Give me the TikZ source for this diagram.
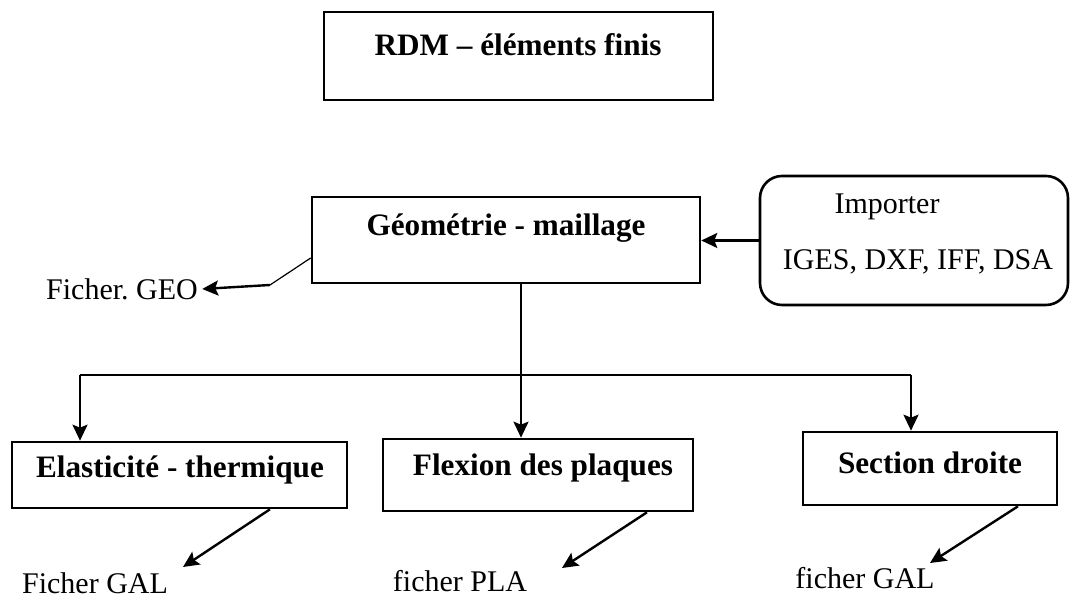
\documentclass[tikz,border=0pt]{standalone}
\usepackage{fontspec}
\setmainfont{Liberation Serif}
\usetikzlibrary{arrows.meta,calc}
\frenchspacing
\begin{document}
\begin{tikzpicture}[x=0.5pt,y=-0.5pt,
  font=\fontsize{15}{18}\selectfont,
  box/.style={draw,line width=1.3pt,inner sep=0pt},
  rbox/.style={draw,line width=1.3pt,inner sep=0pt,rounded corners=11pt},
  lbl/.style={inner sep=2pt},
  blbl/.style={inner sep=2pt,font=\fontsize{15.6}{18}\selectfont\bfseries},
  arr/.style={line width=1.2pt,-{Stealth[length=8pt,width=7.5pt,inset=1.5pt]}},
  thin/.style={line width=0.6pt}]
\useasboundingbox (0,0) rectangle (1073,597);
% boxes
\node[box,minimum width=194.5pt,minimum height=44pt] (top) at (518.5,56) {};
\node[blbl] (toptxt) at (518,45) {RDM – éléments finis};
\node[box,minimum width=194pt,minimum height=43pt] (geo) at (506,240) {};
\node[blbl] (geotxt) at (506,228) {Géométrie - maillage};
\node[rbox,minimum width=154pt,minimum height=64.5pt] (imp) at (914,240.5) {};
\node[lbl] (imptxt) at (887,207) {Importer};
\node[lbl] (fmttxt) at (918,262) {IGES, DXF, IFF, DSA};
\node[box,minimum width=167.5pt,minimum height=33pt] (ela) at (179.5,475) {};
\node[blbl] (elatxt) at (180,470) {Elasticité - thermique};
\node[box,minimum width=155pt,minimum height=36pt] (flex) at (538,475) {};
\node[blbl] (flextxt) at (543,468) {Flexion des plaques};
\node[box,minimum width=127pt,minimum height=36.5pt] (sec) at (930,468.5) {};
\node[blbl] (sectxt) at (930,463) {Section droite};
% files
\node[lbl] (geof) at (122,289) {Ficher. GEO};
\node[lbl] (galA) at (95,583) {Ficher GAL};
\node[lbl] (pla) at (460,581) {ficher PLA};
\node[lbl] (galB) at (865,578) {ficher GAL};
% connectors
\draw[arr] (imp.west) -- (imp.west -| geo.east);
\coordinate (gk) at (270,285);
\draw[thin] ($(geo.west)+(0,18)$) -- (gk);
\draw[arr] (gk) -- (geof.east);
\coordinate (j) at (521,375);
\draw[arr] (j |- geo.south) -- (j |- flex.north);
\coordinate (hl) at (80,375);
\coordinate (hr) at (911,375);
\draw[line width=0.8pt] (hl) -- (hr);
\draw[arr] (hl) -- (hl |- ela.north);
\draw[arr] (hr) -- (hr |- sec.north);
\coordinate (tA) at (183,567);
\coordinate (tP) at (562,568);
\coordinate (tB) at (930,563);
\draw[arr] ($(ela.south)+(90.5,0)$) -- (tA);
\draw[arr] ($(flex.south)+(109,0)$) -- (tP);
\draw[arr] ($(sec.south)+(88,0)$) -- (tB);
\end{tikzpicture}
\end{document}
